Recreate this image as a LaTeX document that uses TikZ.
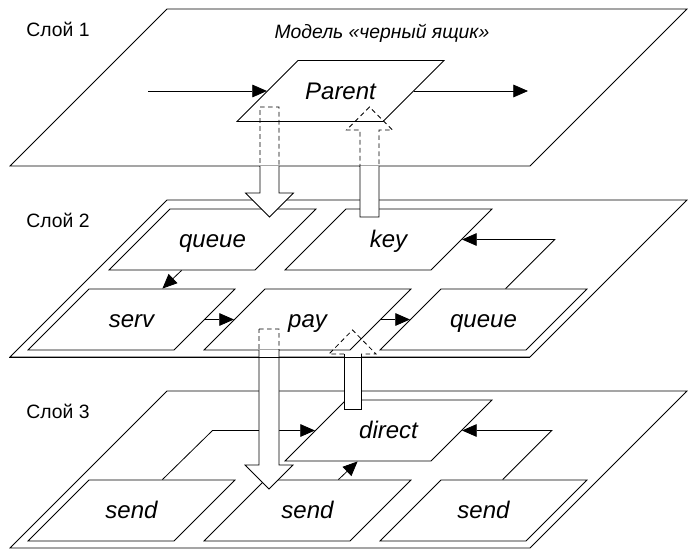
\documentclass[tikz,border=0pt]{standalone}
\usepackage{fontspec}
\setmainfont{Liberation Sans}
\usetikzlibrary{shapes.geometric,arrows.meta,calc}

\begin{document}
\begin{tikzpicture}[x=0.75pt,y=-0.75pt,line width=0.6pt,
	plane/.style={draw,trapezium,trapezium left angle=45,trapezium right angle=135,
		trapezium stretches body,inner sep=0pt,text height=117.75pt,text depth=0pt,minimum width=507.75pt},
	blok/.style={draw,fill=white,trapezium,trapezium left angle=45,trapezium right angle=135,
		trapezium stretches body,inner sep=0pt,text height=29.2pt,text depth=16.55pt,minimum width=155.25pt,
		font=\fontsize{18}{18}\itshape},
	sloj/.style={font=\fontsize{14.5}{14.5}\selectfont},
	arr/.style={-{Triangle[length=11pt,width=9.5pt]}},
	hidden/.style={dash pattern=on 3.5pt off 2.5pt}]
			\useasboundingbox (0,0) rectangle (688,549);
			\node[plane] (sl1) at (348.5,87.5) {};
			\node[plane] (sl2) at (348.5,278.5) {};
			\node[plane] (sl3) at (348.5,469.5) {};
			\node[sloj] (n1) at (58,29) {Слой 1};
			\node[sloj] (n2) at (58,220) {Слой 2};
			\node[sloj] (n3) at (58,411) {Слой 3};
			\node[sloj,font=\fontsize{14.5}{14.5}\itshape] (model) at (382,33) {Модель «черный ящик»};
			\node[blok] (parent) at (340.5,91) {Parent};
			\node[blok] (queue) at (212.5,239.5) {queue};
			\node[blok] (key) at (388.5,239.5) {key};
			\node[blok] (serv) at (131.5,319.5) {serv};
			\node[blok] (pay) at (307.5,319.5) {pay};
			\node[blok] (queueb) at (483.5,319.5) {queue};
			\node[blok] (direct) at (388.5,430.5) {direct};
			\node[blok] (senda) at (131.5,510.5) {send};
			\node[blok] (sendb) at (307.5,510.5) {send};
			\node[blok] (sendc) at (483.5,510.5) {send};
			\coordinate (vhod) at (148,91);
			\coordinate (vyhod) at (528,91);
			\coordinate (ugol1) at (554.7,239.5);
			\coordinate (ugol2) at (212.5,430.5);
			\coordinate (ugol3) at (551.8,430.5);
			\draw[arr] (vhod) -- (parent.left side);
			\draw[arr] (parent.right side) -- (vyhod);
			\draw[arr] (queue.bottom side) -- (serv.top side);
			\draw[arr] (serv.right side) -- (pay.left side);
			\draw[arr] (pay.right side) -- (queueb.left side);
			\draw[arr] ($(queueb.top left corner)!.44!(queueb.top right corner)$) -- (ugol1) -- (key.right side);
			\draw[arr] (senda.top side) -- (ugol2) -- (direct.left side);
			\draw[arr] (sendb.top side) -- (direct.bottom side);
			\draw[arr] ($(sendc.top left corner)!.42!(sendc.top right corner)$) -- (ugol3) -- (direct.right side);
			\begin{scope}
				\clip (0,0) rectangle (688,166);
				\draw[hidden] (260,107) -- (279,107) -- (279,193) -- (293.5,193) -- (269.5,217) -- (245.5,193) -- (260,193) -- cycle;
				\draw[hidden] (360,217) -- (379,217) -- (379,130) -- (392.5,130) -- (369.5,107) -- (346.5,130) -- (360,130) -- cycle;
			\end{scope}
			\begin{scope}
				\clip (0,166.5) rectangle (688,300);
				\draw[fill=white] (260,107) -- (279,107) -- (279,193) -- (293.5,193) -- (269.5,217) -- (245.5,193) -- (260,193) -- cycle;
				\draw[fill=white] (360,217) -- (379,217) -- (379,130) -- (392.5,130) -- (369.5,107) -- (346.5,130) -- (360,130) -- cycle;
			\end{scope}
			\begin{scope}
				\clip (0,300) rectangle (688,350);
				\draw[hidden] (259,329) -- (279,329) -- (279,465) -- (293,465) -- (269,489) -- (245,465) -- (259,465) -- cycle;
			\end{scope}
			\begin{scope}
				\clip (0,350.4) rectangle (688,549);
				\draw[fill=white] (259,329) -- (279,329) -- (279,465) -- (293,465) -- (269,489) -- (245,465) -- (259,465) -- cycle;
			\end{scope}
			\fill[white] (344,354) rectangle (361,409);
			\draw[hidden] (344,354) -- (329,354) -- (352.5,330) -- (376,354) -- (361,354);
			\draw (344,354) -- (344,409) -- (361,409) -- (361,354);
			\draw (sl2.bottom left corner) -- (sl2.bottom right corner);
		\end{tikzpicture}
\end{document}
